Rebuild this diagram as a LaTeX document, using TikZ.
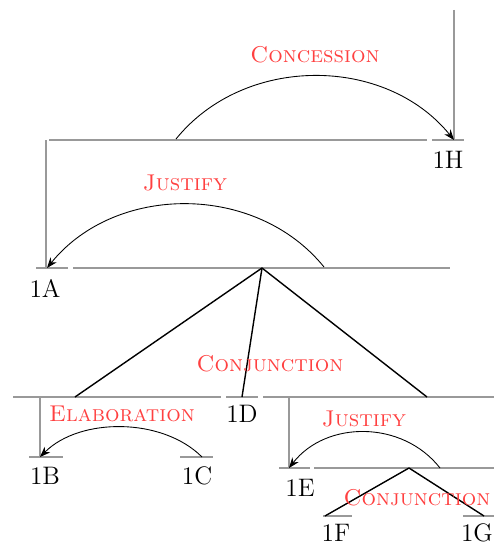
\documentclass[tikz,border=0pt]{standalone}
\usepackage{xcolor}
\usepackage{tikz}
\usetikzlibrary{arrows.meta}

\begin{document}
\begin{tikzpicture}[
x=0.02cm, y=-0.02cm,
span/.style={draw=gray!80, line width=0.6pt},
tree/.style={draw=black, line width=0.8pt},
rel/.style={-{Stealth[length=6pt,width=4.5pt]}, line width=0.5pt},
rlabel/.style={text=red!75, font=\fontsize{13}{15}\selectfont\scshape},
leaf/.style={font=\fontsize{14.4}{17}\selectfont, inner sep=0pt}
]
\useasboundingbox (0,0) rectangle (494,544);
% segments and spans
\coordinate (top) at (454,10);
\coordinate (sAGl) at (49,140); \coordinate (sAGr) at (427,140);
\coordinate (sHl) at (432,140); \coordinate (sHr) at (464,140); \coordinate (sH) at (454,140);
\coordinate (sAl) at (36,268); \coordinate (sAr) at (68,268); \coordinate (sA) at (47,268);
\coordinate (sBGl) at (73,268); \coordinate (sBGr) at (450,268);
\coordinate (apexBG) at (262,268);
\coordinate (sBCl) at (13,397); \coordinate (sBCr) at (221,397);
\coordinate (sDl) at (226,397); \coordinate (sDr) at (258,397);
\coordinate (sEGl) at (263,397); \coordinate (sEGr) at (494,397);
\coordinate (sBl) at (29,457); \coordinate (sBr) at (63,457); \coordinate (sB) at (40,457);
\coordinate (sCl) at (180,457); \coordinate (sCr) at (213,457);
\coordinate (sEl) at (279,468); \coordinate (sEr) at (310,468); \coordinate (sE) at (289,468);
\coordinate (sFGl) at (314,468); \coordinate (sFGr) at (494,468);
\coordinate (apexFG) at (409,468);
\coordinate (sFl) at (323,516); \coordinate (sFr) at (352,516);
\coordinate (sGl) at (463,516); \coordinate (sGr) at (494,516);
\draw[span] (sAGl) -- (sAGr);
\draw[span] (sHl) -- (sHr);
\draw[span] (top) -- (sH);
\draw[span] (46,140) -- (46,268);
\draw[span] (sAl) -- (sAr);
\draw[span] (sBGl) -- (sBGr);
\draw[span] (sBCl) -- (sBCr);
\draw[span] (sDl) -- (sDr);
\draw[span] (sEGl) -- (sEGr);
\draw[span] (40,397) -- (sB);
\draw[span] (sBl) -- (sBr);
\draw[span] (sCl) -- (sCr);
\draw[span] (289,397) -- (sE);
\draw[span] (sEl) -- (sEr);
\draw[span] (sFGl) -- (sFGr);
\draw[span] (sFl) -- (sFr);
\draw[span] (sGl) -- (sGr);
% tree
\draw[tree] (apexBG) -- (75,397);
\draw[tree] (apexBG) -- (242,397);
\draw[tree] (apexBG) -- (427,397);
\draw[tree] (apexFG) -- (325,516);
\draw[tree] (apexFG) -- (484,516);
% leaves
\node[leaf] (n1H) at (448,160) {1H};
\node[leaf] (n1A) at (45,288) {1A};
\node[leaf] (n1D) at (242,414) {1D};
\node[leaf] (n1B) at (45,476) {1B};
\node[leaf] (n1C) at (197,476) {1C};
\node[leaf] (n1E) at (300,488) {1E};
\node[leaf] (n1F) at (336,533) {1F};
\node[leaf] (n1G) at (477,533) {1G};
% relations
\node[rlabel] (concession) at (315,55) {Concession};
\node[rlabel] (justifyA) at (185,183) {Justify};
\node[rlabel] (conjBG) at (270,364) {Conjunction};
\node[rlabel] (elab) at (122,414) {Elaboration};
\node[rlabel] (justifyE) at (364,419) {Justify};
\node[rlabel] (conjFG) at (417,498) {Conjunction};
\draw[rel] (176,139) to[out=51, in=129, looseness=1] (sH);
\draw[rel] (324,267) to[out=129, in=51, looseness=1] (sA);
\draw[rel] (202,457) to[out=135, in=45, looseness=0.89] (sB);
\draw[rel] (440,468) to[out=128, in=52, looseness=1.03] (sE);
\end{tikzpicture}
\end{document}
